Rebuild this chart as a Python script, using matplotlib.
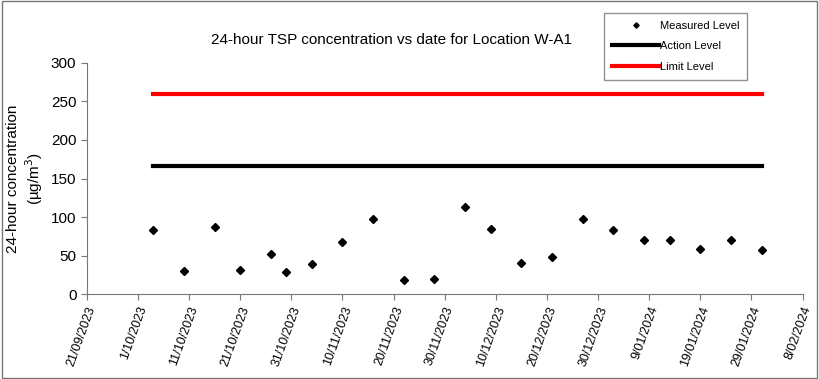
import numpy as np
import pandas as pd
import matplotlib
matplotlib.use('Agg')
import matplotlib.pyplot as plt
import matplotlib.dates as mdates

plt.rcParams['font.family'] = ['Liberation Sans', 'DejaVu Sans']

# Measured 24-hour TSP values
dates = pd.to_datetime([
    '2023-10-04', '2023-10-10', '2023-10-16', '2023-10-21', '2023-10-27',
    '2023-10-30', '2023-11-04', '2023-11-10', '2023-11-16', '2023-11-22',
    '2023-11-28', '2023-12-04', '2023-12-09', '2023-12-15', '2023-12-21',
    '2023-12-27', '2024-01-02', '2024-01-08', '2024-01-13', '2024-01-19',
    '2024-01-25', '2024-01-31'])
tsp = [83, 30, 87, 31, 52, 29, 39, 67, 98, 18, 20, 113, 85, 40, 48,
       98, 83, 70, 70, 58, 70, 57]
action_level = 166.5
limit_level = 260

tick_dates = pd.date_range('2023-09-21', '2024-02-08', freq='10D')
tick_labels = [f"{d.day}/{d.month:02d}/{d.year}" for d in tick_dates]

fig = plt.figure(figsize=(8.19, 3.79), dpi=100)
ax = fig.add_axes([0.106, 0.224, 0.874, 0.61])

ax.plot(dates, tsp, linestyle='none', marker='D', markersize=4.5,
        color='black', label='Measured Level', zorder=3)
ax.plot([dates[0], dates[-1]], [action_level, action_level], color='black',
        linewidth=3, label='Action Level')
ax.plot([dates[0], dates[-1]], [limit_level, limit_level], color='red',
        linewidth=3, label='Limit Level')

ax.set_xlim(tick_dates[0], tick_dates[-1])
ax.set_ylim(0, 300)
ax.set_yticks(range(0, 301, 50))
ax.set_xticks(tick_dates)
ax.set_xticklabels(tick_labels, rotation=70, ha='right', rotation_mode='anchor',
                   fontsize=9)
ax.tick_params(axis='y', labelsize=11)
ax.tick_params(direction='out', length=4, color='#777777')

for s in ['top', 'right']:
    ax.spines[s].set_visible(False)
for s in ['left', 'bottom']:
    ax.spines[s].set_color('#777777')

ax.set_ylabel('24-hour concentration\n(µg/m$^3$)', fontsize=11, labelpad=4)
fig.text(0.478, 0.895, '24-hour TSP concentration vs date for Location W-A1',
         ha='center', va='center', fontsize=11)

leg = fig.legend(loc='upper left', bbox_to_anchor=(0.738, 0.966),
                 fontsize=8, frameon=True, fancybox=False, handlelength=4.2,
                 borderpad=0.7, labelspacing=0.95, handletextpad=0.1,
                 borderaxespad=0, markerscale=0.6)
leg.get_frame().set_edgecolor('#777777')
leg.get_frame().set_linewidth(1)
# widen the box on the right like the reference
fig.canvas.draw()
bb = leg.get_frame().get_bbox()
leg.get_frame().set_width(bb.width + 24)

fig.patches.append(plt.Rectangle((0.002, 0.003), 0.995, 0.994,
                                 transform=fig.transFigure, fill=False,
                                 edgecolor='#777777', linewidth=1))

fig.savefig('out.png', dpi=100)
